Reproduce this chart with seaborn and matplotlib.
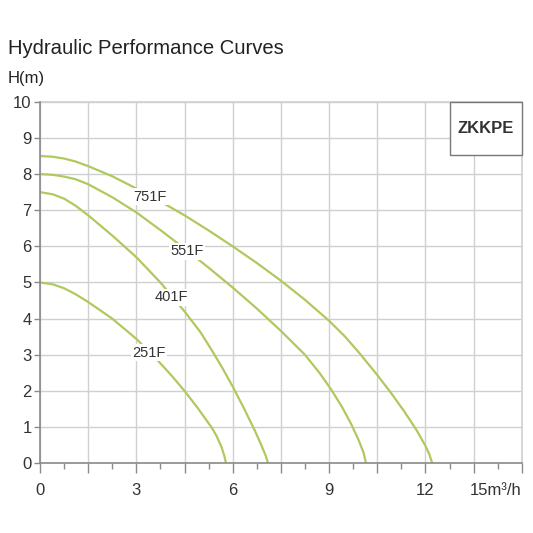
import matplotlib
matplotlib.use("Agg")
import matplotlib.pyplot as plt
import matplotlib.patches as mpatches
import seaborn as sns
import pandas as pd

# values (flow m3/h, head m)
q_751 = [0, 0.4, 0.75, 1.1, 1.5, 2.25, 3, 3.75, 4.5, 5.25, 6, 6.75, 7.5, 8.25, 9, 9.5, 9.95, 10.5, 10.94, 11.35, 11.72, 12.0, 12.12, 12.21]
h_751 = [8.5, 8.48, 8.43, 8.35, 8.22, 7.94, 7.6, 7.24, 6.86, 6.44, 6.0, 5.54, 5.05, 4.52, 3.94, 3.5, 3.04, 2.44, 1.93, 1.42, 0.92, 0.48, 0.25, 0]

q_551 = [0, 0.4, 0.75, 1.1, 1.5, 2.25, 3, 3.75, 4.5, 5.25, 6, 6.75, 7.5, 8.25, 8.7, 9.05, 9.4, 9.69, 9.92, 10.07, 10.15]
h_551 = [8.0, 7.98, 7.93, 7.86, 7.72, 7.36, 6.94, 6.45, 5.94, 5.41, 4.86, 4.28, 3.66, 3.0, 2.5, 2.06, 1.56, 1.08, 0.64, 0.3, 0]

q_401 = [0, 0.4, 0.75, 1.1, 1.5, 2.25, 3, 3.75, 4.5, 5.0, 5.38, 5.7, 6.0, 6.35, 6.69, 6.9, 7.03, 7.1]
h_401 = [7.5, 7.44, 7.32, 7.13, 6.86, 6.3, 5.7, 5.0, 4.2, 3.62, 3.08, 2.6, 2.12, 1.52, 0.9, 0.48, 0.2, 0]

q_251 = [0, 0.4, 0.75, 1.1, 1.5, 2.25, 3, 3.69, 4.1, 4.5, 4.9, 5.35, 5.5, 5.65, 5.74, 5.79]
h_251 = [5.0, 4.95, 4.84, 4.68, 4.46, 4.0, 3.44, 2.82, 2.42, 2.0, 1.54, 0.98, 0.75, 0.45, 0.2, 0]

models = ["751F", "551F", "401F", "251F"]
label_q = [3.42, 4.57, 4.1, 3.4]
label_h = [7.37, 5.86, 4.59, 3.06]

x_ticks = [0, 1.5, 3, 4.5, 6, 7.5, 9, 10.5, 12, 13.5, 15]
x_labels = ["0", "", "3", "", "6", "", "9", "", "12", "", "15m³/h"]
y_ticks = list(range(0, 11))

frames = []
for name, q, h in zip(models, [q_751, q_551, q_401, q_251], [h_751, h_551, h_401, h_251]):
    frames.append(pd.DataFrame({"Q": q, "H": h, "model": name}))
df = pd.concat(frames, ignore_index=True)

sns.set_style("white")
plt.rcParams["font.family"] = ["Liberation Sans", "DejaVu Sans"]

green = "#b0c95e"
grid_c = "#d0d0d0"
axis_c = "#8a8a8a"
text_c = "#333333"

fig = plt.figure(figsize=(5.33, 5.33), dpi=100)
ax = fig.add_axes([0.075, 0.131, 0.904, 0.678])

sns.lineplot(data=df, x="Q", y="H", hue="model", palette=[green] * 4,
             sort=False, estimator=None, linewidth=1.6, legend=False, ax=ax, zorder=3)
for ln in ax.get_lines():
    ln.set_solid_joinstyle("round")

ax.set_xlim(0, 15)
ax.set_ylim(0, 10)
ax.set_xticks(x_ticks)
ax.set_xticklabels(x_labels)
ax.set_xticks([i * 0.75 for i in range(21)], minor=True)
ax.set_yticks(y_ticks)
ax.grid(True, which="major", color=grid_c, linewidth=1.0, zorder=0)
ax.set_axisbelow(True)

for s in ["top", "right"]:
    ax.spines[s].set_visible(False)
for s in ["left", "bottom"]:
    ax.spines[s].set_color(axis_c)
    ax.spines[s].set_linewidth(1.2)
    ax.spines[s].set_zorder(4)
# top and right borders are grid-coloured lines
ax.axhline(10, color=grid_c, linewidth=1.2, clip_on=False, zorder=1)
ax.axvline(15, color=grid_c, linewidth=1.2, clip_on=False, zorder=1)

ax.tick_params(axis="x", which="major", length=7, width=1, color=axis_c,
               labelsize=12, labelcolor=text_c, pad=7, direction="out", bottom=True)
ax.tick_params(axis="x", which="minor", length=4, width=1, color=axis_c, bottom=True)
ax.tick_params(axis="y", which="major", length=4, width=1, color=axis_c,
               labelsize=12, labelcolor=text_c, pad=2, left=True)
last = ax.get_xticklabels()[-1]
last.set_horizontalalignment("right")
ax.set_xlabel("")
ax.set_ylabel("")

for name, lq, lh in zip(models, label_q, label_h):
    ax.text(lq, lh, name, ha="center", va="center", fontsize=10.5, color=text_c, zorder=5,
            bbox=dict(facecolor="white", edgecolor="none", pad=1.0))

box = mpatches.Rectangle((0.851, 0.852), 0.149, 0.148, transform=ax.transAxes,
                         facecolor="white", edgecolor="#777777", linewidth=1.0, zorder=6, clip_on=False)
ax.add_patch(box)
ax.text(0.9255, 0.926, "ZKKPE", transform=ax.transAxes, ha="center", va="center",
        fontsize=12, fontweight="bold", color="#333333", zorder=7)

fig.text(8 / 533, 1 - 54 / 533, "Hydraulic Performance Curves", fontsize=14.6,
         color="#222222", va="baseline", ha="left")
fig.text(8 / 533, 1 - 82.7 / 533, "H(m)", fontsize=12, color="#222222", va="baseline", ha="left")

fig.savefig("out.png", dpi=100, facecolor="white")
